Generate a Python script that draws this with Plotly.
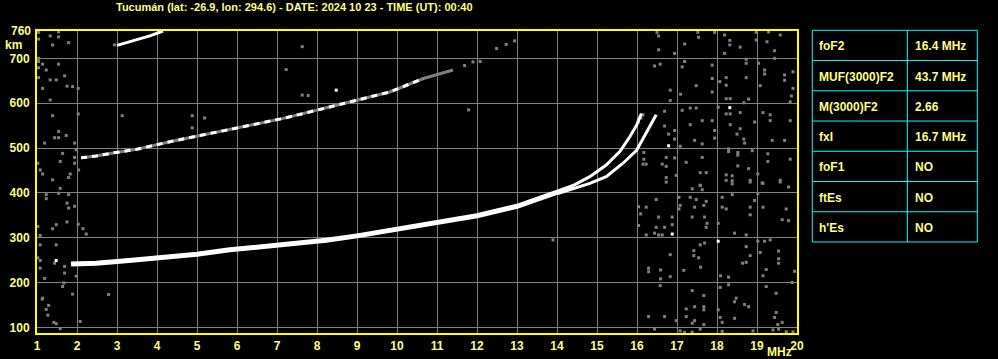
import plotly.graph_objects as go

# ---------------- data ----------------
TITLE = "Tucumán (lat: -26.9, lon: 294.6) - DATE: 2024 10 23 - TIME (UT): 00:40"
X_TICKS = list(range(1, 21))
Y_TICKS = [100, 200, 300, 400, 500, 600, 700]
Y_TOP_LABEL = 760

# first-hop F2 trace (common part)
F2_MHZ = [1.85, 2.48, 3.3, 4.15, 5.0, 5.82, 6.65, 7.48, 8.23, 9.0, 10.0, 11.0, 12.0, 13.0, 13.56, 14.0, 14.4]
F2_KM = [241, 243, 249, 255, 263, 273, 280, 286, 294, 304, 319, 333, 349, 370, 388, 401, 414]
# ordinary branch
O_MHZ = [14.0, 14.4, 14.82, 15.23, 15.57, 15.82, 15.99, 16.11]
O_KM = [401, 416, 436, 462, 492, 525, 551, 577]
# extraordinary branch
X_MHZ = [14.0, 14.4, 14.82, 15.23, 15.65, 15.99, 16.23, 16.48]
X_KM = [398, 410, 421, 436, 466, 495, 533, 574]
# second hop
H2_MHZ = [2.1, 2.48, 2.9, 3.49, 4.32, 4.82, 5.48, 6.32, 7.16, 8.16, 8.99, 9.82, 10.66, 11.4]
H2_KM = [478, 482, 489, 497, 514, 523, 535, 551, 566, 588, 607, 625, 655, 674]
# third hop
H3_MHZ = [3.0, 3.15, 3.48, 3.82, 4.15]
H3_KM = [729, 733, 741, 750, 761]

# scattered gray echoes (MHz, km)
NOISE = [
    (11.9, 692), (12.08, 693), (12.49, 722), (12.73, 731), (12.94, 739), (11.69, 684), (11.79, 585),
    (2.94, 730), (7.63, 726), (7.23, 675), (7.63, 618), (7.78, 617), (3.13, 572), (4.88, 572),
    (5.19, 567), (4.88, 545), (13.9, 295), (16.04, 558), (16.1, 567), (16.15, 574),
    (16.5, 758), (16.54, 750), (16.54, 719), (17.52, 758), (17.54, 747), (17.19, 732), (16.94, 711),
    (17.94, 758), (18.19, 752), (18.32, 740), (18.32, 730), (18.19, 711), (18.58, 725), (18.98, 758),
    (19.29, 759), (18.98, 741), (19.25, 737), (19.58, 752), (19.44, 717), (19.44, 700), (18.73, 698),
    (18.73, 689), (19.04, 689), (17.19, 693), (17.13, 681), (16.58, 687), (16.44, 683), (17.88, 685),
    (17.88, 655), (18.07, 648), (18.23, 657), (18.23, 640), (18.73, 657), (19.19, 674), (19.19, 665),
    (19.69, 663), (19.69, 651), (19.9, 670), (19.9, 633), (19.86, 616), (19.83, 603), (19.08, 639),
    (17.88, 625), (17.48, 639), (17.09, 620), (16.83, 629), (16.83, 606), (18.23, 610), (18.33, 610),
    (18.67, 601), (18.79, 609), (18.03, 591), (17.33, 589), (17.48, 589), (17.13, 584), (18.23, 576),
    (18.33, 576), (18.58, 579), (19.15, 579), (19.33, 574), (19.33, 561), (19.83, 561), (18.33, 552),
    (16.69, 582), (16.69, 549), (17.63, 561), (17.88, 561), (17.33, 552), (18.94, 558), (17.94, 539),
    (18.58, 543), (18.5, 531), (18.67, 520), (18.69, 511), (17.94, 522), (16.94, 539), (16.94, 520),
    (16.79, 531), (17.44, 517), (17.63, 509), (19.38, 517), (19.69, 517), (17.08, 504), (18.29, 498),
    (18.29, 492), (18.52, 490), (18.52, 484), (18.88, 494), (19.27, 487), (19.27, 470), (19.83, 475),
    (16.17, 490), (16.17, 475), (16.15, 464), (16.23, 464), (16.63, 464), (16.73, 479), (16.73, 459),
    (16.94, 478), (17.23, 468), (17.63, 479), (17.58, 445), (17.73, 445), (18.23, 440), (18.38, 438),
    (18.52, 460), (18.79, 454), (18.38, 427), (18.23, 428), (18.83, 428), (19.02, 442), (19.15, 421),
    (19.58, 428), (16.73, 434), (16.98, 439), (17.58, 417),
    (16.73, 424), (17.38, 409), (17.58, 416), (17.63, 407), (18.38, 420), (18.83, 424), (19.13, 422),
    (19.58, 424), (19.79, 413), (18.38, 396), (19.02, 398), (16.04, 369), (16.09, 353), (16.23, 368),
    (16.48, 385), (16.04, 327), (16.54, 346), (16.48, 323), (16.69, 323), (16.88, 346), (16.88, 329),
    (16.23, 306), (16.44, 310), (16.54, 306), (16.63, 306), (17.05, 390), (17.08, 372), (17.05, 364),
    (17.33, 390), (17.48, 385), (17.73, 381), (17.67, 372), (17.44, 368), (17.38, 346), (17.69, 346),
    (17.75, 332), (17.73, 323), (18.13, 390), (18.13, 368), (18.23, 364), (18.03, 332), (18.44, 310),
    (18.73, 306), (18.83, 368), (18.83, 351), (18.94, 383), (19.15, 368), (19.73, 364), (19.63, 340),
    (19.79, 338), (17.58, 284), (17.69, 288), (17.42, 271), (17.42, 260), (17.54, 255), (16.83, 262),
    (17.59, 234), (17.17, 227), (16.59, 228), (16.29, 232), (16.29, 224), (16.59, 208), (16.83, 213),
    (16.58, 193), (17.38, 182), (17.23, 141), (17.44, 146), (16.69, 124), (16.29, 124), (16.98, 115),
    (17.23, 124), (17.44, 115), (17.38, 109), (18.73, 280), (18.83, 260), (18.73, 245), (18.64, 243),
    (18.29, 212), (18.09, 215), (18.08, 189), (18.29, 195), (18.48, 165), (18.44, 157), (18.69, 151),
    (18.79, 146), (17.67, 171), (17.67, 146), (17.67, 139), (18.03, 139), (17.67, 106), (18.08, 122),
    (18.13, 111), (18.44, 120), (19.02, 292), (19.19, 292), (19.33, 295), (19.08, 267), (19.54, 270),
    (19.54, 253), (19.54, 243), (19.23, 229), (19.15, 215), (19.94, 225), (19.88, 200), (19.23, 191),
    (19.48, 176), (19.48, 133), (19.44, 122), (19.63, 111), (19.52, 106), (19.54, 96), (19.4, 94),
    (19.73, 90), (19.9, 90), (18.9, 92), (18.13, 91), (17.19, 89), (17.38, 89), (17.08, 92),
    (17.58, 96), (16.44, 96),
    (1.04, 758), (1.04, 743), (1.33, 750), (1.54, 759), (1.54, 748), (1.39, 730), (1.79, 735),
    (1.04, 700), (1.04, 693), (1.04, 679), (1.14, 687), (1.23, 674), (1.04, 657), (1.14, 633),
    (1.33, 652), (1.48, 652), (1.54, 687), (1.69, 661), (1.75, 638), (1.89, 637), (2.03, 633),
    (1.33, 607), (1.39, 572), (1.54, 537), (1.44, 523), (1.54, 523), (1.73, 528), (1.19, 511),
    (1.94, 511), (2.03, 576), (1.98, 496), (1.64, 488), (1.94, 479), (1.58, 470), (1.94, 466),
    (2.04, 451), (1.02, 466), (1.08, 451), (1.14, 442), (1.39, 429), (1.83, 442), (1.79, 434),
    (1.58, 410), (1.54, 399), (1.23, 396), (1.23, 387), (1.79, 396), (1.75, 377), (1.94, 370),
    (1.79, 366), (1.75, 335), (1.48, 329), (1.39, 320), (2.03, 330), (2.15, 320), (2.23, 308),
    (1.08, 305), (1.02, 325), (1.08, 284), (1.48, 284), (1.02, 255), (1.08, 249), (1.44, 243),
    (1.08, 232), (1.69, 236), (1.69, 221), (1.19, 209), (1.67, 199), (1.64, 191), (1.98, 214),
    (1.89, 174), (1.14, 165), (1.29, 149), (1.23, 140), (1.27, 127), (2.08, 113), (1.48, 108),
    (1.58, 97), (2.79, 173), (1.42, 111), (1.13, 163),
]
# scattered white echoes (MHz, km)
WHITE = [(8.48, 629), (18.32, 590), (16.79, 505), (16.88, 308), (18.03, 292), (1.48, 249)]

TABLE_LABELS = ["foF2", "MUF(3000)F2", "M(3000)F2", "fxI", "foF1", "ftEs", "h'Es"]
TABLE_VALUES = ["16.4 MHz", "43.7 MHz", "2.66", "16.7 MHz", "NO", "NO", "NO"]

# ---------------- style / layout ----------------
W, H = 998, 359
ML, MR, MT, MB = 37, 201, 31, 26
PW, PH = W - ML - MR, H - MT - MB
YEL = "#ffff00"
TXT = "#ffff80"
GRID = "#808080"
FONT = "Liberation Sans"


def px_x(px):
    return (px - ML) / PW


def px_y(py):
    return (H - MB - py) / PH


fig = go.Figure()

nf = [p[0] for p in NOISE]
nk = [p[1] for p in NOISE]
fig.add_trace(go.Scatter(x=nf, y=nk, mode="markers",
                         marker=dict(symbol="square", size=3, color=GRID, line=dict(width=0))))
fig.add_trace(go.Scatter(x=[p[0] for p in WHITE], y=[p[1] for p in WHITE], mode="markers",
                         marker=dict(symbol="square", size=3, color="white", line=dict(width=0))))

# second hop: gray base with white dashes
fig.add_trace(go.Scatter(x=H2_MHZ, y=H2_KM, mode="lines", line=dict(color=GRID, width=3)))
fig.add_trace(go.Scatter(x=H2_MHZ[:-1], y=H2_KM[:-1], mode="lines",
                         line=dict(color="white", width=3, dash="6px,5px")))
# third hop
fig.add_trace(go.Scatter(x=H3_MHZ, y=H3_KM, mode="lines", line=dict(color="white", width=3)))
# first hop
fig.add_trace(go.Scatter(x=O_MHZ, y=O_KM, mode="lines", line=dict(color="white", width=3)))
fig.add_trace(go.Scatter(x=X_MHZ, y=X_KM, mode="lines", line=dict(color="white", width=3)))
fig.add_trace(go.Scatter(x=F2_MHZ, y=F2_KM, mode="lines", line=dict(color="white", width=5)))

tickfont = dict(family=FONT, size=12, color=TXT, weight="bold")

fig.update_layout(
    width=W, height=H,
    margin=dict(l=ML, r=MR, t=MT, b=MB, pad=0, autoexpand=False),
    paper_bgcolor="black", plot_bgcolor="black",
    showlegend=False,
    xaxis=dict(range=[1, 20], tickvals=X_TICKS, ticktext=[str(v) for v in X_TICKS],
               showgrid=True, gridcolor=GRID, gridwidth=1, zeroline=False,
               showline=True, linecolor=YEL, linewidth=2, mirror=True, automargin=False,
               ticks="", tickfont=tickfont, ticklabelstandoff=1),
    yaxis=dict(range=[87.3, 761], tickvals=Y_TICKS, ticktext=[str(v) for v in Y_TICKS],
               showgrid=True, gridcolor=GRID, gridwidth=1, zeroline=False,
               showline=True, linecolor=YEL, linewidth=2, mirror=True, automargin=False,
               ticks="", tickfont=tickfont, ticklabelstandoff=3),
)

ann = []
ann.append(dict(text="<b>" + TITLE + "</b>", xref="paper", yref="paper", x=px_x(294.5), y=px_y(7.5),
                xanchor="center", yanchor="middle", showarrow=False,
                font=dict(family=FONT, size=11, color=TXT)))
ann.append(dict(text="<b>%d</b>" % Y_TOP_LABEL, xref="paper", yref="y", x=px_x(33), y=Y_TOP_LABEL,
                xanchor="right", yanchor="middle", showarrow=False,
                font=dict(family=FONT, size=12, color=TXT)))
ann.append(dict(text="<b>km</b>", xref="paper", yref="paper", x=px_x(13.5), y=px_y(45.5),
                xanchor="center", yanchor="middle", showarrow=False,
                font=dict(family=FONT, size=12, color=TXT)))
ann.append(dict(text="<b>MHz</b>", xref="paper", yref="paper", x=px_x(779.5), y=px_y(351.5),
                xanchor="center", yanchor="middle", showarrow=False,
                font=dict(family=FONT, size=12, color=TXT)))

# table
TX0, TX1, TX2 = 812.3, 907.3, 977.3
TY0, TY1 = 30.3, 242.0
n = len(TABLE_LABELS)
rh = (TY1 - TY0) / n
shapes = []
for i in range(n + 1):
    yy = px_y(TY0 + i * rh)
    shapes.append(dict(type="line", xref="paper", yref="paper", x0=px_x(TX0), x1=px_x(TX2), y0=yy, y1=yy,
                       line=dict(color="#00ffff", width=1)))
for xx in (TX0, TX1, TX2):
    shapes.append(dict(type="line", xref="paper", yref="paper", x0=px_x(xx), x1=px_x(xx),
                       y0=px_y(TY0), y1=px_y(TY1), line=dict(color="#00ffff", width=1)))
for i, (lab, val) in enumerate(zip(TABLE_LABELS, TABLE_VALUES)):
    yc = px_y(TY0 + (i + 0.5) * rh + 1)
    ann.append(dict(text="<b>%s</b>" % lab, xref="paper", yref="paper", x=px_x(817), y=yc,
                    xanchor="left", yanchor="middle", showarrow=False,
                    font=dict(family=FONT, size=12, color=TXT)))
    ann.append(dict(text="<b>%s</b>" % val, xref="paper", yref="paper", x=px_x(912.5), y=yc,
                    xanchor="left", yanchor="middle", showarrow=False,
                    font=dict(family=FONT, size=12, color=TXT)))

fig.update_layout(annotations=ann, shapes=shapes)
fig.write_html("out.html")
